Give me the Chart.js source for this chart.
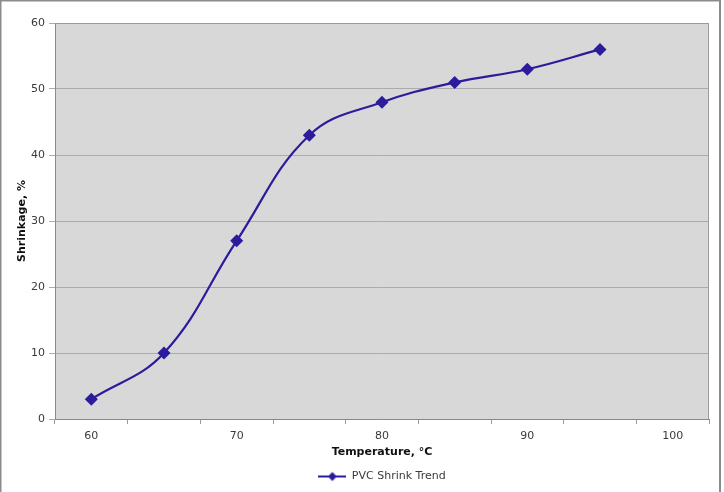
<!DOCTYPE html>
<html>
<head>
<meta charset="utf-8">
<script src="https://cdn.jsdelivr.net/npm/chart.js@4"></script>
<style>
  html, body { margin: 0; padding: 0; background: #fff; }
  #wrap { width: 724px; height: 492px; position: relative; }
</style>
</head>
<body>
<div id="wrap"><canvas id="shrinkChart" width="724" height="492"></canvas></div>
<script>
// Temperature categories (every 5 degrees, labels shown every 10)
const temperatures = ['60', '65', '70', '75', '80', '85', '90', '95', '100'];
const shrinkage = [3, 10, 27, 43, 48, 51, 53, 56, null];
const yTicks = [0, 10, 20, 30, 40, 50, 60];

const lineColor = '#2b1c9c';
const textColor = '#3a3a3a';

// legend symbol: short line with a diamond in the middle
function legendSymbol() {
    const c = document.createElement('canvas');
    c.width = 28;
    c.height = 12;
    const g = c.getContext('2d');
    g.strokeStyle = lineColor;
    g.lineWidth = 2;
    g.beginPath();
    g.moveTo(0, 6);
    g.lineTo(28, 6);
    g.stroke();
    g.fillStyle = lineColor;
    g.beginPath();
    g.moveTo(14, 1.5);
    g.lineTo(18.5, 6);
    g.lineTo(14, 10.5);
    g.lineTo(9.5, 6);
    g.closePath();
    g.fill();
    return c;
}

const plotBackground = {
    id: 'plotBackground',
    beforeDraw(chart) {
        const { ctx, chartArea: a } = chart;
        ctx.save();
        ctx.fillStyle = '#d8d8d8';
        ctx.fillRect(a.left, a.top, a.right - a.left, a.bottom - a.top);
        ctx.restore();
    },
    afterDraw(chart) {
        const { ctx, chartArea: a } = chart;
        ctx.save();
        ctx.strokeStyle = '#9a9a9a';
        ctx.lineWidth = 1;
        ctx.beginPath();
        ctx.moveTo(a.left, a.top + 0.5);
        ctx.lineTo(a.right - 0.5, a.top + 0.5);
        ctx.lineTo(a.right - 0.5, a.bottom);
        ctx.stroke();
        // outer frame of the picture
        ctx.strokeStyle = '#8c8c8c';
        ctx.lineWidth = 2;
        ctx.beginPath();
        ctx.moveTo(0.5, 492);
        ctx.lineTo(0.5, 0.5);
        ctx.lineTo(720, 0.5);
        ctx.lineTo(720, 492);
        ctx.stroke();
        ctx.restore();
    }
};

document.addEventListener('DOMContentLoaded', function() {
    const ctx = document.getElementById('shrinkChart').getContext('2d');

    new Chart(ctx, {
        type: 'line',
        data: {
            labels: temperatures,
            datasets: [{
                label: 'PVC Shrink Trend',
                data: shrinkage,
                borderColor: lineColor,
                backgroundColor: lineColor,
                borderWidth: 2.2,
                tension: 0.4,
                pointStyle: 'rectRot',
                pointRadius: 6.5,
                pointHoverRadius: 6.5,
                pointBackgroundColor: lineColor,
                pointBorderColor: lineColor,
                pointBorderWidth: 0
            }]
        },
        options: {
            responsive: false,
            animation: false,
            layout: { padding: { left: 0, top: 23, right: 15, bottom: 0 } },
            plugins: {
                tooltip: { enabled: false },
                legend: {
                    position: 'bottom',
                    fullSize: false,
                    labels: {
                        usePointStyle: true,
                        pointStyleWidth: 28,
                        color: textColor,
                        font: { family: 'DejaVu Sans', size: 11 },
                        padding: 7,
                        generateLabels(chart) {
                            return chart.data.datasets.map((ds, i) => ({
                                text: ds.label,
                                pointStyle: legendSymbol(),
                                fillStyle: lineColor,
                                strokeStyle: lineColor,
                                lineWidth: 0,
                                fontColor: textColor,
                                datasetIndex: i
                            }));
                        }
                    }
                }
            },
            scales: {
                x: {
                    type: 'category',
                    offset: true,
                    grid: {
                        offset: true,
                        drawOnChartArea: false,
                        tickLength: 5,
                        color: '#9a9a9a'
                    },
                    border: { color: '#8a8a8a', width: 1 },
                    ticks: {
                        autoSkip: false,
                        maxRotation: 0,
                        color: textColor,
                        padding: 6,
                        font: { family: 'DejaVu Sans', size: 11 },
                        callback: function(val, idx) {
                            return idx % 2 === 0 ? temperatures[idx] : '';
                        }
                    },
                    title: {
                        display: true,
                        text: 'Temperature, °C',
                        color: '#111',
                        font: { family: 'DejaVu Sans', size: 11, weight: 'bold' },
                        padding: { top: 2, bottom: 5 }
                    },
                    afterFit(scale) { scale.height = 45; }
                },
                y: {
                    min: 0,
                    max: 60,
                    afterBuildTicks(scale) {
                        scale.ticks = yTicks.map(v => ({ value: v }));
                    },
                    grid: {
                        color: '#ababab',
                        tickLength: 6,
                        drawTicks: true
                    },
                    border: { color: '#8a8a8a', width: 1 },
                    ticks: {
                        color: textColor,
                        padding: 4,
                        font: { family: 'DejaVu Sans', size: 11 }
                    },
                    title: {
                        display: true,
                        text: 'Shrinkage, %',
                        color: '#111',
                        font: { family: 'DejaVu Sans', size: 11, weight: 'bold' },
                        padding: { top: 16, bottom: 6 }
                    },
                    afterFit(scale) { scale.width = 55; }
                }
            }
        },
        plugins: [plotBackground]
    });
});
</script>
</body>
</html>
